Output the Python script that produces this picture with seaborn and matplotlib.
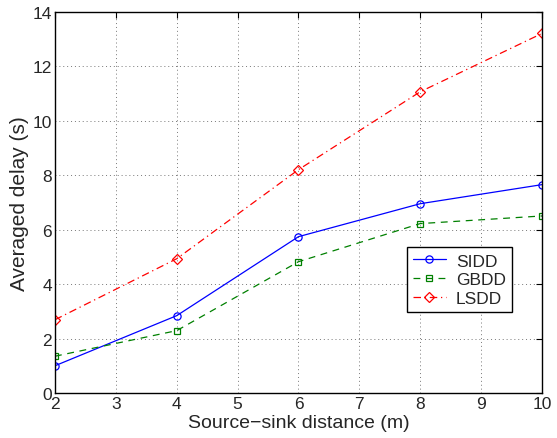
import matplotlib
matplotlib.use("Agg")
import matplotlib.pyplot as plt
import seaborn as sns
import pandas as pd

# Source-sink distance (m) and averaged delay (s) per scheme
distance = [2, 4, 6, 8, 10]
sidd = [1.00, 2.84, 5.74, 6.95, 7.65]
gbdd = [1.35, 2.29, 4.82, 6.22, 6.50]
lsdd = [2.69, 4.93, 8.20, 11.06, 13.20]

x_ticks = [2, 3, 4, 5, 6, 7, 8, 9, 10]
y_ticks = [0, 2, 4, 6, 8, 10, 12, 14]

sns.set_theme(style="white")
plt.rcParams["font.family"] = ["Liberation Sans", "DejaVu Sans"]
plt.rcParams["xtick.direction"] = "in"
plt.rcParams["ytick.direction"] = "in"

fig = plt.figure(figsize=(5.57, 4.39), dpi=100)
ax = fig.add_axes([0.0987, 0.1025, 0.8743, 0.8686])

series = [
    ("SIDD", sidd, "#0000ff", "-", "o", 5.2),
    ("GBDD", gbdd, "#008000", (0, (5.5, 4.5)), "s", 3.8),
    ("LSDD", lsdd, "#ff0000", (0, (6, 3, 1, 3)), "D", 5.0),
]

for name, vals, color, ls, marker, ms in series:
    df = pd.DataFrame({"distance": distance, "delay": vals})
    sns.lineplot(data=df, x="distance", y="delay", ax=ax, color=color,
                 linestyle=ls, marker=marker, markersize=ms,
                 markerfacecolor="none", markeredgecolor=color,
                 markeredgewidth=0.9, linewidth=0.9, label=name)

ax.set_xlim(2, 10)
ax.set_ylim(0, 14)
ax.set_xticks(x_ticks)
ax.set_yticks(y_ticks)
ax.tick_params(axis="both", labelsize=12.5, top=True, right=True,
               length=4, width=0.8, color="black", pad=2)
ax.grid(True, linestyle=(0, (1, 3)), color="#777777", linewidth=0.7)
for spine in ax.spines.values():
    spine.set_color("black")
    spine.set_linewidth(1.0)

ax.set_xlabel("Source\u2212sink distance (m)", fontsize=14, labelpad=2)
ax.set_ylabel("Averaged delay (s)", fontsize=15, labelpad=3)

leg = ax.legend(loc="upper left", bbox_to_anchor=(0.730, 0.4344),
                bbox_transform=fig.transFigure, borderaxespad=0,
                fancybox=False, framealpha=1, edgecolor="black",
                fontsize=12.5, handlelength=1.9, handletextpad=0.6,
                labelspacing=0.2, borderpad=0.35)
leg.get_frame().set_linewidth(1.0)

fig.savefig("out.png", dpi=100)
